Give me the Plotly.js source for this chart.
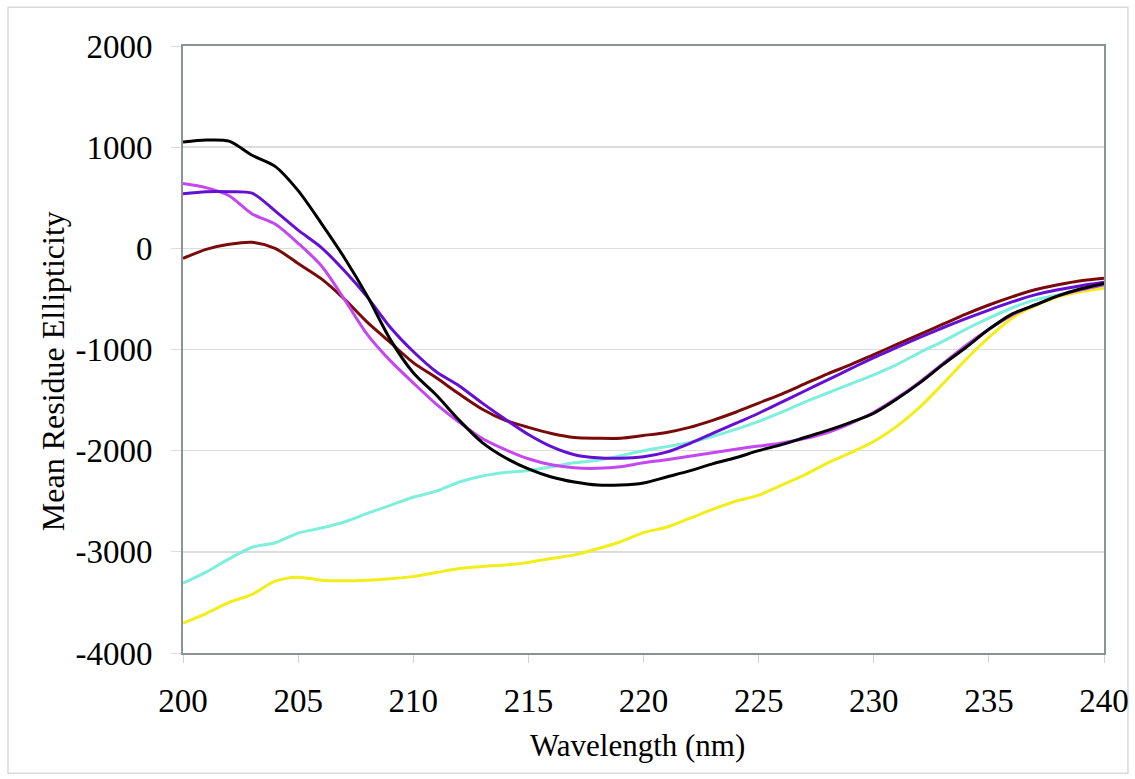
<!DOCTYPE html>
<html>
<head>
<meta charset="utf-8">
<script src="https://cdn.plot.ly/plotly-3.0.1.min.js"></script>
<style>html,body{margin:0;padding:0;background:#fff;}#chart{width:1135px;height:779px;}</style>
</head>
<body>
<div id="chart"></div>
<script>
const wavelength = [200,201,202,203,204,205,206,207,208,209,210,211,212,213,214,215,216,217,218,219,220,221,222,223,224,225,226,227,228,229,230,231,232,233,234,235,236,237,238,239,240];

const blackSeries = [1050,1070,1060,920,810,570,250,-90,-470,-900,-1230,-1450,-1700,-1920,-2070,-2180,-2260,-2310,-2340,-2340,-2320,-2260,-2200,-2130,-2070,-2000,-1940,-1870,-1800,-1720,-1630,-1490,-1330,-1150,-980,-800,-650,-560,-470,-400,-346];
const magentaSeries = [640,600,520,340,240,50,-170,-500,-850,-1110,-1330,-1540,-1720,-1880,-1990,-2080,-2140,-2170,-2175,-2160,-2120,-2090,-2055,-2020,-1985,-1955,-1925,-1880,-1820,-1730,-1620,-1480,-1320,-1140,-960,-800,-660,-560,-470,-410,-360];
const purpleSeries = [540,560,560,545,370,180,10,-220,-480,-780,-1020,-1220,-1360,-1530,-1690,-1840,-1960,-2040,-2070,-2075,-2060,-2015,-1930,-1830,-1730,-1630,-1520,-1410,-1300,-1190,-1080,-980,-880,-785,-695,-610,-530,-460,-410,-370,-336];
const brownSeries = [-100,-10,40,60,0,-150,-300,-500,-730,-930,-1130,-1280,-1440,-1590,-1700,-1770,-1830,-1870,-1877,-1877,-1850,-1820,-1770,-1700,-1620,-1530,-1440,-1340,-1240,-1150,-1050,-950,-850,-750,-650,-560,-480,-410,-360,-320,-296];
const cyanSeries = [-3310,-3200,-3070,-2955,-2910,-2815,-2765,-2705,-2620,-2540,-2460,-2400,-2310,-2250,-2215,-2195,-2160,-2120,-2095,-2050,-2000,-1960,-1920,-1860,-1790,-1710,-1620,-1520,-1430,-1340,-1250,-1150,-1030,-920,-800,-690,-590,-510,-460,-410,-366];
const yellowSeries = [-3705,-3610,-3500,-3420,-3290,-3250,-3280,-3285,-3280,-3265,-3245,-3205,-3165,-3145,-3130,-3105,-3065,-3030,-2970,-2900,-2810,-2757,-2670,-2580,-2500,-2440,-2340,-2240,-2120,-2020,-1910,-1760,-1570,-1340,-1100,-880,-690,-570,-480,-430,-395];

const yTickValues = [-4000,-3000,-2000,-1000,0,1000,2000];
const yTickLabels = ['-4000','-3000','-2000','-1000','0','1000','2000'];
const xTickValues = [200,205,210,215,220,225,230,235,240];
const xTickLabels = ['200','205','210','215','220','225','230','235','240'];
const xTitle = 'Wavelength (nm)';
const yTitle = 'Mean Residue Ellipticity';

const seriesList = [
  {name:'Cyan', y: cyanSeries, color:'#7EEEDD'},
  {name:'Yellow', y: yellowSeries, color:'#F2EE1A'},
  {name:'Brown', y: brownSeries, color:'#7A0A0A'},
  {name:'Magenta', y: magentaSeries, color:'#C447F0'},
  {name:'Purple', y: purpleSeries, color:'#6410D2'},
  {name:'Black', y: blackSeries, color:'#000000'}
];

const traces = seriesList.map(s => ({
  x: wavelength, y: s.y, name: s.name, type:'scatter', mode:'lines',
  line:{color:s.color, width:3, shape:'spline', smoothing:0.8}
}));

const font = {family:'"Liberation Serif", "Times New Roman", serif', color:'#000'};

const layout = {
  width:1135, height:779,
  margin:{l:183, r:31, t:46, b:126},
  paper_bgcolor:'#fff', plot_bgcolor:'#fff',
  showlegend:false,
  font: Object.assign({size:30}, font),
  xaxis:{
    range:[200,240], tickmode:'array', tickvals:xTickValues, ticktext:xTickLabels,
    showgrid:false, zeroline:false,
    showline:true, linecolor:'#8A9494', linewidth:2, mirror:true,
    ticks:'outside', ticklen:8, tickcolor:'#D0D4D4', tickwidth:1,
    ticklabelstandoff:9,
    tickfont: Object.assign({size:33}, font)
  },
  yaxis:{
    range:[-4000,2000], tickmode:'array', tickvals:yTickValues, ticktext:yTickLabels,
    showgrid:true, gridcolor:'#DCDCDC', gridwidth:1.5,
    zeroline:false,
    showline:true, linecolor:'#8A9494', linewidth:2, mirror:true,
    ticks:'outside', ticklen:10, tickcolor:'#DCDCDC', tickwidth:1,
    ticklabelstandoff:12,
    tickfont: Object.assign({size:33}, font)
  },
  annotations:[
    {text:xTitle, xref:'paper', yref:'paper', x:0.494, y:-0.152, xanchor:'center', yanchor:'middle',
     showarrow:false, font:Object.assign({size:31}, font)},
    {text:yTitle, xref:'paper', yref:'paper', x:-0.141, y:0.4646, xanchor:'center', yanchor:'middle',
     textangle:-90, showarrow:false, font:Object.assign({size:32}, font)}
  ],
  shapes:[{
    type:'rect', xref:'paper', yref:'paper',
    x0:-0.19, x1:1.026, y0:-0.198, y1:1.064,
    line:{color:'#D9D9D9', width:1.5}, fillcolor:'rgba(0,0,0,0)', layer:'below'
  }]
};

Plotly.newPlot('chart', traces, layout, {staticPlot:true, displayModeBar:false});
</script>
</body>
</html>
